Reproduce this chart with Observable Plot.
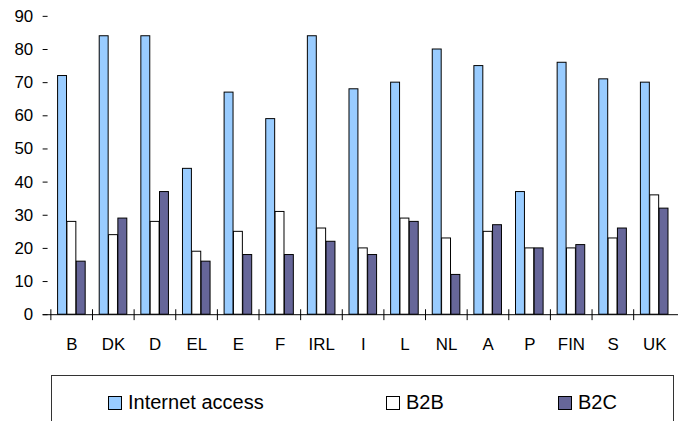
<!DOCTYPE html>
<html>
<head>
<meta charset="utf-8">
<script src="https://cdn.jsdelivr.net/npm/d3@7"></script>
<script src="https://cdn.jsdelivr.net/npm/@observablehq/plot@0.6"></script>
<style>
  html, body { margin: 0; padding: 0; background: #fff; overflow: hidden; }
  #wrap { position: relative; width: 678px; height: 421px; overflow: hidden; font-family: Arial, "Liberation Sans", sans-serif; }
  #chart { position: absolute; left: 0; top: 0; }
  #legend { position: absolute; left: 51px; top: 375px; width: 623px; height: 80px; border: 1px solid #333; box-sizing: border-box; }
  .item { position: absolute; top: 15px; display: flex; align-items: center; font-size: 20px; color: #000; }
  .sw { width: 12px; height: 12px; border: 1px solid #000; margin-right: 6px; }
</style>
</head>
<body>
<div id="wrap">
  <div id="chart"></div>
  <div id="legend"></div>
</div>
<script>
const categories = ["B", "DK", "D", "EL", "E", "F", "IRL", "I", "L", "NL", "A", "P", "FIN", "S", "UK"];
const internetAccess = [72, 84, 84, 44, 67, 59, 84, 68, 70, 80, 75, 37, 76, 71, 70];
const b2b = [28, 24, 28, 19, 25, 31, 26, 20, 29, 23, 25, 20, 20, 23, 36];
const b2c = [16, 29, 37, 16, 18, 18, 22, 18, 28, 12, 27, 20, 21, 26, 32];
const seriesNames = ["Internet access", "B2B", "B2C"];
const seriesColors = ["#99CCFF", "#FFFFFF", "#666699"];
const yTicks = [0, 10, 20, 30, 40, 50, 60, 70, 80, 90];

const W = 684, H = 360, ML = 48, MT = 16, MB = 43;
const step = (W - ML) / categories.length;
const gap = step * 0.167;
const bw = (step - 2 * gap) / 3;

const rows = s => categories.map((c, i) => ({cat: c, value: s[i]}));
const seriesData = [internetAccess, b2b, b2c];

const barMarks = seriesData.map((s, k) => Plot.barY(rows(s), {
  x: "cat", y: "value",
  fill: seriesColors[k], stroke: "#000", strokeWidth: 1,
  insetLeft: gap + k * bw,
  insetRight: gap + (2 - k) * bw
}));

const chart = Plot.plot({
  width: W, height: H,
  marginLeft: ML, marginRight: 0, marginTop: MT, marginBottom: MB,
  style: {fontFamily: "Arial, 'Liberation Sans', sans-serif", fontSize: "17px", color: "#000", background: "transparent"},
  x: {type: "band", domain: categories, padding: 0, axis: null, label: null},
  y: {domain: [0, 90], axis: null, label: null},
  marks: [
    ...barMarks,
    Plot.axisY(yTicks, {tickSize: 5, tickPadding: 10, line: true, stroke: "#000", fontSize: 17, label: null}),
    Plot.axisX({tickSize: 0, tickPadding: 24, line: false, fontSize: 17, label: null}),
    Plot.ruleY([0], {stroke: "#000", insetLeft: -5}),
    Plot.ruleX(categories, {x: d => d, dx: -step / 2, y1: 0, y2: 0, insetTop: -5, insetBottom: -6, stroke: "#000"})
  ]
});
document.getElementById("chart").appendChild(chart);

const legend = document.getElementById("legend");
const lefts = [56, 334, 506];
seriesNames.forEach((n, k) => {
  const it = document.createElement("div");
  it.className = "item";
  it.style.left = lefts[k] + "px";
  const sw = document.createElement("div");
  sw.className = "sw";
  sw.style.background = seriesColors[k];
  const t = document.createElement("span");
  t.textContent = n;
  it.appendChild(sw); it.appendChild(t);
  legend.appendChild(it);
});
</script>
</body>
</html>
